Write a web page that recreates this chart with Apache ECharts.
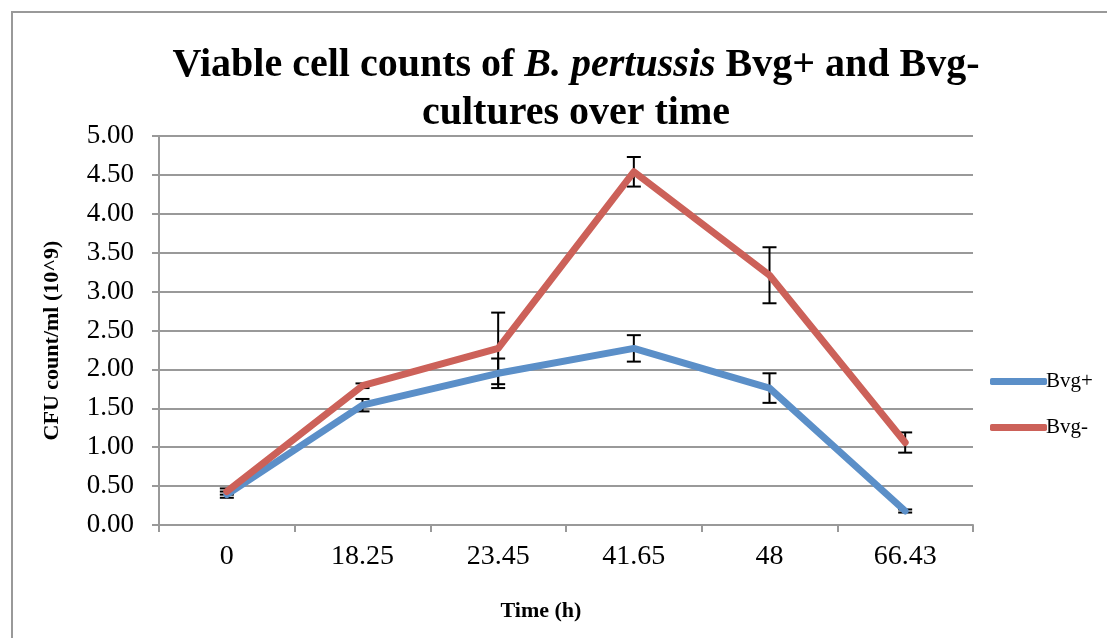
<!DOCTYPE html>
<html>
<head>
<meta charset="utf-8">
<script src="https://cdn.jsdelivr.net/npm/echarts@6/dist/echarts.min.js"></script>
<style>html,body{margin:0;padding:0;background:#fff;}#c{width:1107px;height:638px;}</style>
</head>
<body>
<div id="c"></div>
<script>
var categories = ['0', '18.25', '23.45', '41.65', '48', '66.43'];
var bvgPlus = [0.39, 1.54, 1.95, 2.27, 1.76, 0.18];
var bvgMinus = [0.43, 1.79, 2.27, 4.54, 3.21, 1.06];
var errPlus = [0.04, 0.08, 0.19, 0.17, 0.19, 0.02];
var errMinus = [0.04, 0.03, 0.46, 0.19, 0.36, 0.13];
var yTicks = [0, 0.5, 1, 1.5, 2, 2.5, 3, 3.5, 4, 4.5, 5];

var FONT = '"Liberation Serif", "DejaVu Serif", serif';
var chart = echarts.init(document.getElementById('c'));

function errData(vals, errs) {
  return vals.map(function (v, i) { return [i, v - errs[i], v + errs[i]]; });
}
function errRender(params, api) {
  var x = api.value(0);
  var lo = api.coord([x, api.value(1)]);
  var hi = api.coord([x, api.value(2)]);
  var w = 7;
  var st = { stroke: '#000', lineWidth: 2 };
  return {
    type: 'group',
    children: [
      { type: 'line', shape: { x1: hi[0], y1: hi[1], x2: lo[0], y2: lo[1] }, style: st },
      { type: 'line', shape: { x1: hi[0] - w, y1: hi[1], x2: hi[0] + w, y2: hi[1] }, style: st },
      { type: 'line', shape: { x1: lo[0] - w, y1: lo[1], x2: lo[0] + w, y2: lo[1] }, style: st }
    ]
  };
}

chart.setOption({
  animation: false,
  backgroundColor: '#fff',
  graphic: [{
    type: 'rect', shape: { x: 12, y: 12, width: 1200, height: 700 },
    style: { fill: 'none', stroke: '#999', lineWidth: 2 }, silent: true, z: -1
  }],
  title: {
    text: '{a|Viable cell counts of }{b|B. pertussis}{a| Bvg+ and Bvg-}\n{a|cultures over time}',
    left: 571, top: 37, textAlign: 'center',
    textStyle: {
      rich: {
        a: { fontFamily: FONT, fontWeight: 'bold', fontSize: 40, color: '#000', lineHeight: 48 },
        b: { fontFamily: FONT, fontWeight: 'bold', fontStyle: 'italic', fontSize: 40, color: '#000', lineHeight: 48 }
      }
    }
  },
  legend: {
    orient: 'vertical', left: 985, top: 366,
    itemWidth: 57, itemHeight: 7, itemGap: 25, icon: 'roundRect',
    textStyle: { fontFamily: FONT, fontSize: 21, color: '#000', padding: [0, 0, 0, -6] },
    data: ['Bvg+', 'Bvg-']
  },
  grid: { left: 159, right: 134, top: 136, bottom: 113, containLabel: false },
  xAxis: {
    type: 'category', data: categories, boundaryGap: true,
    name: 'Time (h)', nameLocation: 'middle', nameGap: 75,
    nameTextStyle: { fontFamily: FONT, fontWeight: 'bold', fontSize: 22, color: '#000', padding: [0, 50, 0, 0] },
    axisLine: { lineStyle: { color: '#999', width: 2 } },
    axisTick: { show: true, length: 7, lineStyle: { color: '#999', width: 2 } },
    axisLabel: { fontFamily: FONT, fontSize: 28, color: '#000', margin: 18 }
  },
  yAxis: {
    type: 'value', min: 0, max: 5, interval: 0.5,
    name: 'CFU count/ml (10^9)', nameLocation: 'middle', nameGap: 96, nameRotate: 90,
    nameTextStyle: { fontFamily: FONT, fontWeight: 'bold', fontSize: 22, color: '#000', padding: [0, 20, 0, 0] },
    axisLine: { show: true, lineStyle: { color: '#999', width: 2 } },
    axisTick: { show: true, length: 7, lineStyle: { color: '#999', width: 2 } },
    splitLine: { lineStyle: { color: '#999', width: 2 } },
    axisLabel: {
      fontFamily: FONT, fontSize: 27, color: '#000', margin: 25,
      formatter: function (v) { return v.toFixed(2); }
    }
  },
  series: [
    {
      name: 'Bvg+', type: 'line', data: bvgPlus, symbol: 'none', z: 3,
      lineStyle: { color: '#5b8fc8', width: 7, cap: 'round', join: 'round' },
      itemStyle: { color: '#5b8fc8' }
    },
    {
      name: 'Bvg-', type: 'line', data: bvgMinus, symbol: 'none', z: 4,
      lineStyle: { color: '#cc6159', width: 7, cap: 'round', join: 'round' },
      itemStyle: { color: '#cc6159' }
    },
    {
      type: 'custom', renderItem: errRender, data: errData(bvgPlus, errPlus),
      encode: { x: 0, y: [1, 2] }, z: 2, silent: true
    },
    {
      type: 'custom', renderItem: errRender, data: errData(bvgMinus, errMinus),
      encode: { x: 0, y: [1, 2] }, z: 2, silent: true
    }
  ]
});
</script>
</body>
</html>
